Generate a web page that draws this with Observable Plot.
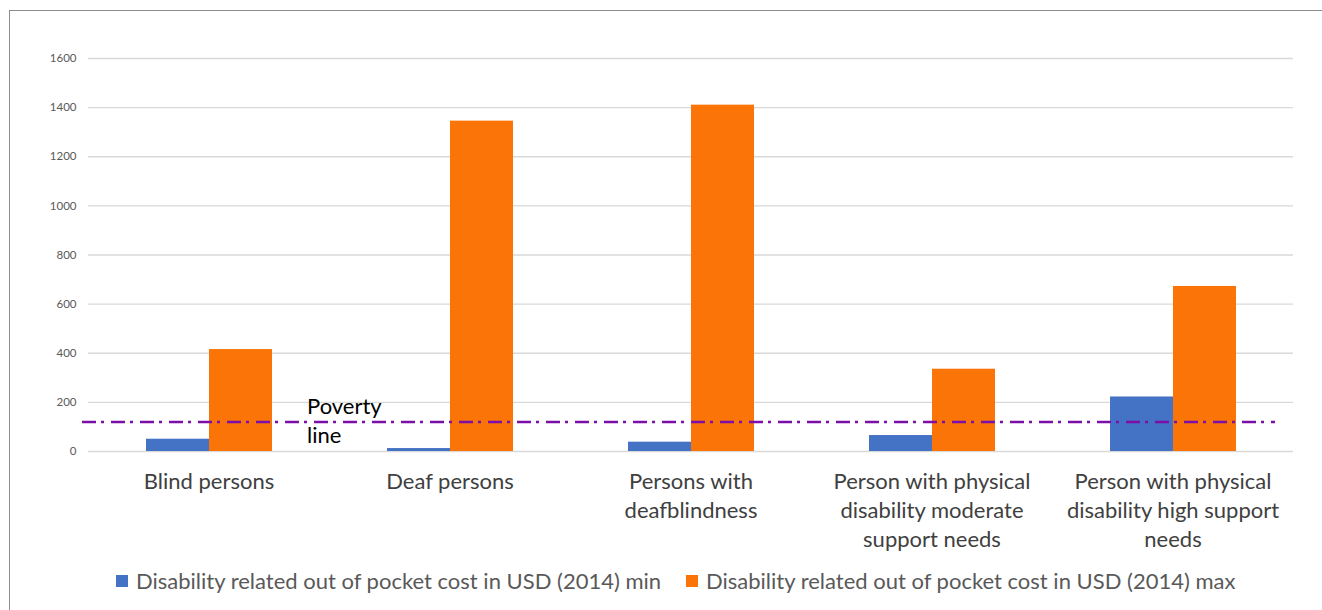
<!DOCTYPE html>
<html>
<head>
<meta charset="utf-8">
<script src="https://cdn.jsdelivr.net/npm/d3@7"></script>
<script src="https://cdn.jsdelivr.net/npm/@observablehq/plot@0.6"></script>
<style>
  html, body { margin: 0; padding: 0; background: #fff; overflow: hidden; }
  #wrap { position: relative; width: 1322px; height: 610px; overflow: hidden; font-family: Lato, "Open Sans", sans-serif; }
  #frame { position: absolute; left: 9px; top: 10px; width: 1400px; height: 700px; border: 1.5px solid #8c8c8c; box-sizing: border-box; }
  #chart { position: absolute; left: 0; top: 0; }
  #legend { position: absolute; left: 0; top: 560px; width: 1322px; height: 50px; }
  .item { position: absolute; top: 7px; display: flex; align-items: center; font-size: 22px; line-height: 28px; color: #595959; white-space: nowrap; }
  .sw { width: 12px; height: 12px; margin-right: 8px; }
</style>
</head>
<body>
<div id="wrap">
  <div id="frame"></div>
  <div id="chart"></div>
  <div id="legend"></div>
</div>
<script>
const categories = [
  "Blind persons",
  "Deaf persons",
  "Persons with deafblindness",
  "Person with physical disability moderate support needs",
  "Person with physical disability high support needs"
];
const categoryLabels = [
  "Blind persons",
  "Deaf persons",
  "Persons with\ndeafblindness",
  "Person with physical\ndisability moderate\nsupport needs",
  "Person with physical\ndisability high support\nneeds"
];
const minCost = [50, 12, 38, 65, 222];
const maxCost = [415, 1345, 1410, 335, 672];
const povertyLine = 120;
const povertyLabel = "Poverty\nline";
const yTicks = [0, 200, 400, 600, 800, 1000, 1200, 1400, 1600];
const seriesNames = [
  "Disability related out of pocket cost in USD (2014) min",
  "Disability related out of pocket cost in USD (2014) max"
];
const seriesColors = ["#4472c4", "#fa7408"];

const minRows = categories.map((c, i) => ({category: c, value: minCost[i]}));
const maxRows = categories.map((c, i) => ({category: c, value: maxCost[i]}));

const chart = Plot.plot({
  width: 1322,
  height: 560,
  marginLeft: 88,
  marginRight: 29,
  marginTop: 58,
  marginBottom: 109,
  style: {fontFamily: "Lato, 'Open Sans', sans-serif", background: "transparent", overflow: "visible"},
  x: {domain: categories, padding: 0, axis: null},
  y: {domain: [0, 1600], axis: null},
  marks: [
    Plot.gridY(yTicks, {stroke: "#d9d9d9", strokeOpacity: 1, strokeWidth: 1.3}),
    Plot.axisY(yTicks, {tickSize: 0, tickPadding: 12, fontSize: 11.5, fill: "#595959", label: null, tickFormat: d => String(d)}),
    Plot.barY(minRows, {x: "category", y: "value", fill: seriesColors[0], insetLeft: 58, insetRight: 120}),
    Plot.barY(maxRows, {x: "category", y: "value", fill: seriesColors[1], insetLeft: 121, insetRight: 57}),
    Plot.ruleY([povertyLine], {stroke: "#7b0fa8", strokeWidth: 2.5, strokeDasharray: "14,5,3,7", insetLeft: -6, insetRight: 18}),
    Plot.text([povertyLine], {x: () => categories[0], y: d => d, text: () => povertyLabel, textAnchor: "start", dx: 98, dy: -3, lineAnchor: "middle", lineHeight: 1.32, fontSize: 22, fill: "#000"}),
    Plot.text(categories, {x: d => d, text: (d, i) => categoryLabels[i], frameAnchor: "bottom", dy: 17, lineAnchor: "top", lineHeight: 1.32, fontSize: 22, fill: "#404040"})
  ]
});
document.getElementById("chart").appendChild(chart);

const legend = document.getElementById("legend");
const lefts = [116, 686];
seriesNames.forEach((name, i) => {
  const item = document.createElement("div");
  item.className = "item";
  item.style.left = lefts[i] + "px";
  const sw = document.createElement("div");
  sw.className = "sw";
  sw.style.background = seriesColors[i];
  const t = document.createElement("span");
  t.textContent = name;
  item.appendChild(sw);
  item.appendChild(t);
  legend.appendChild(item);
});
</script>
</body>
</html>
